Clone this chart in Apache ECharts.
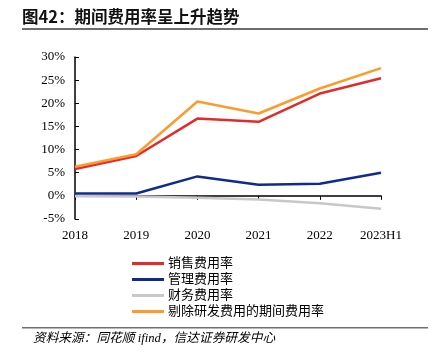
<!DOCTYPE html>
<html><head><meta charset="utf-8">
<script src="https://cdn.jsdelivr.net/npm/echarts@6/dist/echarts.min.js"></script>
<style>html,body{margin:0;padding:0;background:#fff}#c{width:437px;height:362px}</style>
</head><body><div id="c"></div>
<script>
const categories = ['2018','2019','2020','2021','2022','2023H1'];
const salesRate = [5.8, 8.6, 16.7, 16.0, 22.1, 25.4];
const mgmtRate = [0.5, 0.5, 4.2, 2.4, 2.6, 5.0];
const finRate = [-0.1, -0.15, -0.4, -0.8, -1.6, -2.8];
const exRdRate = [6.3, 9.0, 20.4, 17.8, 23.2, 27.6];
const seriesNames = ['销售费用率','管理费用率','财务费用率','剔除研发费用的期间费用率'];
const yTicks = {min: -5, max: 30, interval: 5};

const chart = echarts.init(document.getElementById('c'));
const serif = '"Liberation Serif","Times New Roman",serif';
const cjk = '"Liberation Serif","Noto Sans CJK SC",serif';
const mk = (name, data, color, z) => ({
  name, type: 'line', data, xAxisIndex: 0, yAxisIndex: 0,
  symbol: 'none', lineStyle: {width: 2.5, color}, itemStyle: {color}, z
});
chart.setOption({
  animation: false,
  grid: {left: 75, right: 56, top: 57, bottom: 143},
  xAxis: [
    {type: 'category', data: categories, boundaryGap: false, position: 'bottom',
     axisLine: {show: false, onZero: false}, axisTick: {show: false},
     axisLabel: {color: '#000', fontFamily: serif, fontSize: 13, margin: 10}},
    {type: 'category', data: categories, boundaryGap: false, position: 'bottom',
     axisLine: {show: true, onZero: true, lineStyle: {color: '#000', width: 1.5}},
     axisTick: {show: true, length: 4, lineStyle: {color: '#000'}},
     axisLabel: {show: false}}
  ],
  yAxis: {type: 'value', min: yTicks.min, max: yTicks.max, interval: yTicks.interval,
    axisLine: {show: true, lineStyle: {color: '#000', width: 1.5}},
    axisTick: {show: true, inside: true, length: 4, lineStyle: {color: '#000'}},
    splitLine: {show: false},
    axisLabel: {color: '#000', fontFamily: serif, fontSize: 13, margin: 10, formatter: v => v + '%'}},
  legend: {orient: 'vertical', left: 132, top: 257, padding: 0, itemWidth: 32, itemHeight: 3, itemGap: 3,
    icon: 'rect', data: seriesNames,
    textStyle: {fontFamily: cjk, fontSize: 13, color: '#000', padding: [0,0,0,-1]}},
  series: [
    mk(seriesNames[2], finRate, '#C8C8C8', 2),
    mk(seriesNames[1], mgmtRate, '#0F2C8C', 3),
    mk(seriesNames[0], salesRate, '#E32B2B', 4),
    mk(seriesNames[3], exRdRate, '#FF9A2E', 5)
  ],
  graphic: [
    {type: 'text', left: 22, top: 8, style: {text: '图42：期间费用率呈上升趋势', font: 'bold 16.5px "Noto Sans CJK SC", sans-serif', fill: '#111'}},
    {type: 'rect', shape: {x: 22, y: 28, width: 406, height: 2}, style: {fill: '#6E6E6E'}},
    {type: 'rect', shape: {x: 22, y: 327, width: 406, height: 1.5}, style: {fill: '#6E6E6E'}},
    {type: 'text', left: 33, top: 332, style: {text: '资料来源：同花顺 ifind，信达证券研发中心', font: 'italic 12.7px "Liberation Serif","Noto Sans CJK SC", serif', fill: '#000'}}
  ]
});
</script></body></html>
